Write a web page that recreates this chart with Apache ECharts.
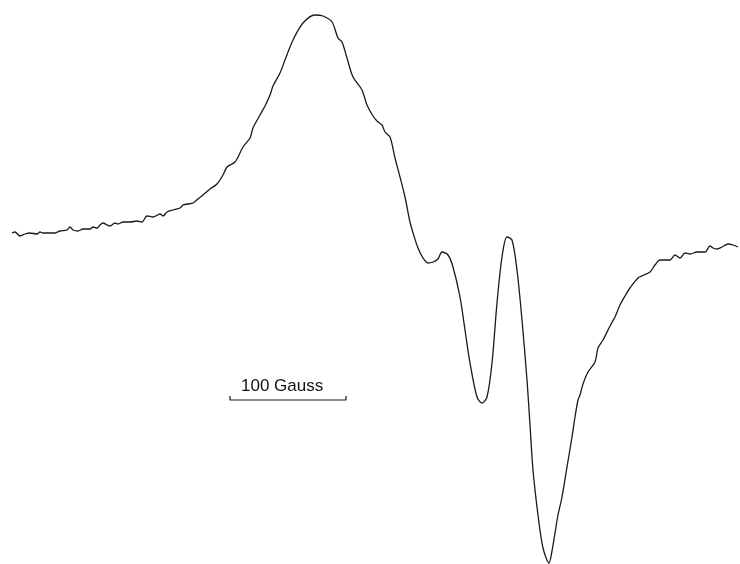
<!DOCTYPE html>
<html>
<head>
<meta charset="utf-8">
<script src="https://cdn.jsdelivr.net/npm/echarts@6/dist/echarts.min.js"></script>
<style>html,body{margin:0;padding:0;background:#fff}#c{width:740px;height:564px}</style>
</head>
<body>
<div id="c"></div>
<script>
// Field position (arbitrary units, 100 Gauss = 116 units)
const field = [12,15,20,25,30,37,40,43,55,60,67,70,73,78,83,90,93,97,100,103,107,110,115,118,123,130,137,142,147,153,160,163,167,173,180,183,188,193,198,203,210,217,223,227,235,243,250,253,260,265,270,273,280,285,293,303,315,323,332,338,342,347,353,362,367,373,377,382,385,390,395,400,405,410,414,418,423,428,433,438,442,448,453,460,465,470,477,482,487,492,497,502,507,512,517,522,527,530,533,538,543,549,552,555,558,562,567,572,575,578,580,583,588,595,598,603,610,615,620,625,630,638,644,650,655,660,670,675,680,685,690,697,705,710,713,717,722,728,733,738];
// EPR derivative signal (arbitrary units)
const signal = [233,232,236,234,233,234,232,233,233,231,230,227,230,231,229,229,227,228,225,223,225,226,223,224,222,222,221,222,216,217,214,216,212,210,208,205,204,203,199,195,189,184,175,167,162,147,138,128,115,106,95,86,73,60,40,23,15,16,22,38,42,58,77,90,105,116,121,125,132,137,158,177,197,222,236,248,258,263,262,259,252,255,267,297,330,363,397,403,397,363,303,257,237,240,270,320,380,425,470,515,548,563,551,533,515,497,467,437,417,400,395,384,372,362,348,340,326,317,305,296,288,278,275,272,265,260,260,255,258,253,254,252,252,246,248,249,247,244,245,247].map(v => -v);
// Scale bar (100 Gauss)
const barX = [230,230,346,346];
const barY = [-396,-400,-400,-396];
const barLabel = '100 Gauss';

const chart = echarts.init(document.getElementById('c'));
chart.setOption({
  animation:false,
  backgroundColor:'#fff',
  grid:{left:0,right:0,top:0,bottom:0},
  xAxis:{type:'value',min:0,max:740,show:false},
  yAxis:{type:'value',min:-564,max:0,show:false},
  series:[
    {type:'line',data:field.map((x,i)=>[x,signal[i]]),symbol:'none',smooth:0.3,
     lineStyle:{color:'#1a1a1a',width:1.3}},
    {type:'line',data:barX.map((x,i)=>[x,barY[i]]),symbol:'none',
     lineStyle:{color:'#1a1a1a',width:1.2}}
  ],
  graphic:[{type:'text',left:241,top:378,style:{text:barLabel,font:'17px "Liberation Sans", Arial, sans-serif',fill:'#111'}}]
});
</script>
</body>
</html>
